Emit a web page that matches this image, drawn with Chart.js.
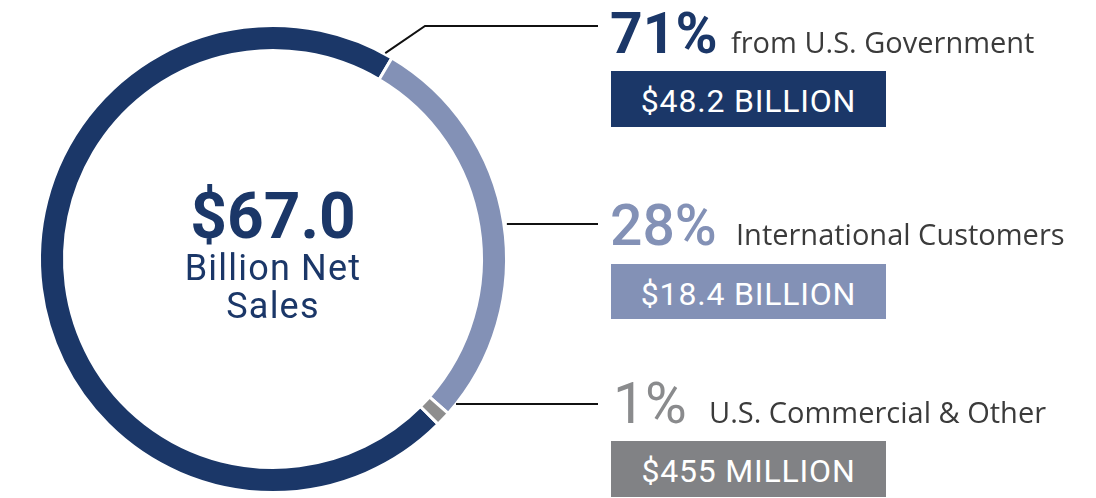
<!DOCTYPE html>
<html><head><meta charset="utf-8">
<script src="https://cdn.jsdelivr.net/npm/chart.js@4"></script>
<style>
html,body{margin:0;padding:0;background:#fff;}
#wrap{position:relative;width:1096px;height:498px;overflow:hidden;}
#c{position:absolute;left:0;top:0;}
.t{position:absolute;white-space:nowrap;line-height:1;margin:0;}
.r{font-family:Roboto,sans-serif;}
.o{font-family:"Open Sans",sans-serif;font-size:29px;color:#3b3b3b;}
.box{position:absolute;left:611px;width:275px;display:flex;align-items:center;justify-content:center;
 font-family:Roboto,sans-serif;font-size:32px;line-height:1;color:#fff;letter-spacing:0.8px;box-sizing:border-box;padding-top:4px;}
</style></head>
<body><div id="wrap">
<canvas id="c" width="1096" height="498"></canvas>
<div class="t r" style="left:173px;width:200px;text-align:center;top:185px;font-size:64px;font-weight:700;color:#1b3768;">$67.0</div>
<div class="t r" style="left:123px;width:300px;text-align:center;top:250px;font-size:36px;color:#1b3768;letter-spacing:1.2px;">Billion Net</div>
<div class="t r" style="left:123px;width:300px;text-align:center;top:288px;font-size:36px;color:#1b3768;letter-spacing:1.2px;">Sales</div>

<div id="p0" class="t r" style="left:610px;top:5px;font-size:57px;font-weight:700;color:#1b3768;"></div>
<div id="n0" class="t o" style="left:731px;top:27px;"></div>
<div id="b0" class="box" style="top:71px;height:56px;background:#1b3768;"></div>

<div id="p1" class="t r" style="left:610px;top:197px;font-size:57px;font-weight:500;color:#8391b6;"></div>
<div id="n1" class="t o" style="left:736px;top:219px;"></div>
<div id="b1" class="box" style="top:264px;height:55px;background:#8391b6;"></div>

<div id="p2" class="t r" style="left:613px;top:375px;font-size:57px;font-weight:400;color:#8a8b8d;"></div>
<div id="n2" class="t o" style="left:709px;top:397px;"></div>
<div id="b2" class="box" style="top:441px;height:56px;background:#818285;"></div>
</div>
<script>
const categories = ['U.S. Government', 'International Customers', 'U.S. Commercial & Other'];
const sharePct = [71, 28, 1];
const labelNames = ['from U.S. Government', 'International Customers', 'U.S. Commercial & Other'];
const salesLabels = ['$48.2 BILLION', '$18.4 BILLION', '$455 MILLION'];
const arcColors = ['#1b3768', '#8391b6', '#8e8e8e'];

for (let i = 0; i < categories.length; i++) {
  document.getElementById('p' + i).textContent = sharePct[i] + '%';
  document.getElementById('n' + i).textContent = labelNames[i];
  document.getElementById('b' + i).textContent = salesLabels[i];
}

const leaderPlugin = {
  id: 'leaders',
  afterDatasetsDraw(chart) {
    const arc = chart.getDatasetMeta(0).data[0];
    const cx = arc.x, cy = arc.y, R = arc.outerRadius;
    const ctx = chart.ctx;
    ctx.save();
    ctx.strokeStyle = '#111';
    ctx.lineWidth = 2;
    const a = 28.6 * Math.PI / 180, r = R + 1;
    ctx.beginPath();
    ctx.moveTo(cx + r * Math.sin(a), cy - r * Math.cos(a));
    ctx.lineTo(425, 26);
    ctx.lineTo(598, 26);
    ctx.stroke();
    [[224, 3], [404, 0]].forEach(([y, gap]) => {
      const dy = y - cy;
      const x0 = cx + Math.sqrt(R * R - dy * dy) + gap;
      ctx.beginPath();
      ctx.moveTo(x0, y);
      ctx.lineTo(598, y);
      ctx.stroke();
    });
    ctx.restore();
  }
};

new Chart(document.getElementById('c'), {
  type: 'doughnut',
  data: {
    labels: categories,
    datasets: [{
      data: sharePct,
      backgroundColor: arcColors,
      borderColor: '#ffffff',
      borderWidth: 3
    }]
  },
  options: {
    responsive: false,
    animation: false,
    rotation: 135,
    cutout: '89.3%',
    events: [],
    layout: { padding: { left: 38, top: 24, right: 588, bottom: 4 } },
    plugins: { legend: { display: false }, tooltip: { enabled: false } }
  },
  plugins: [leaderPlugin]
});
</script>
</body></html>
